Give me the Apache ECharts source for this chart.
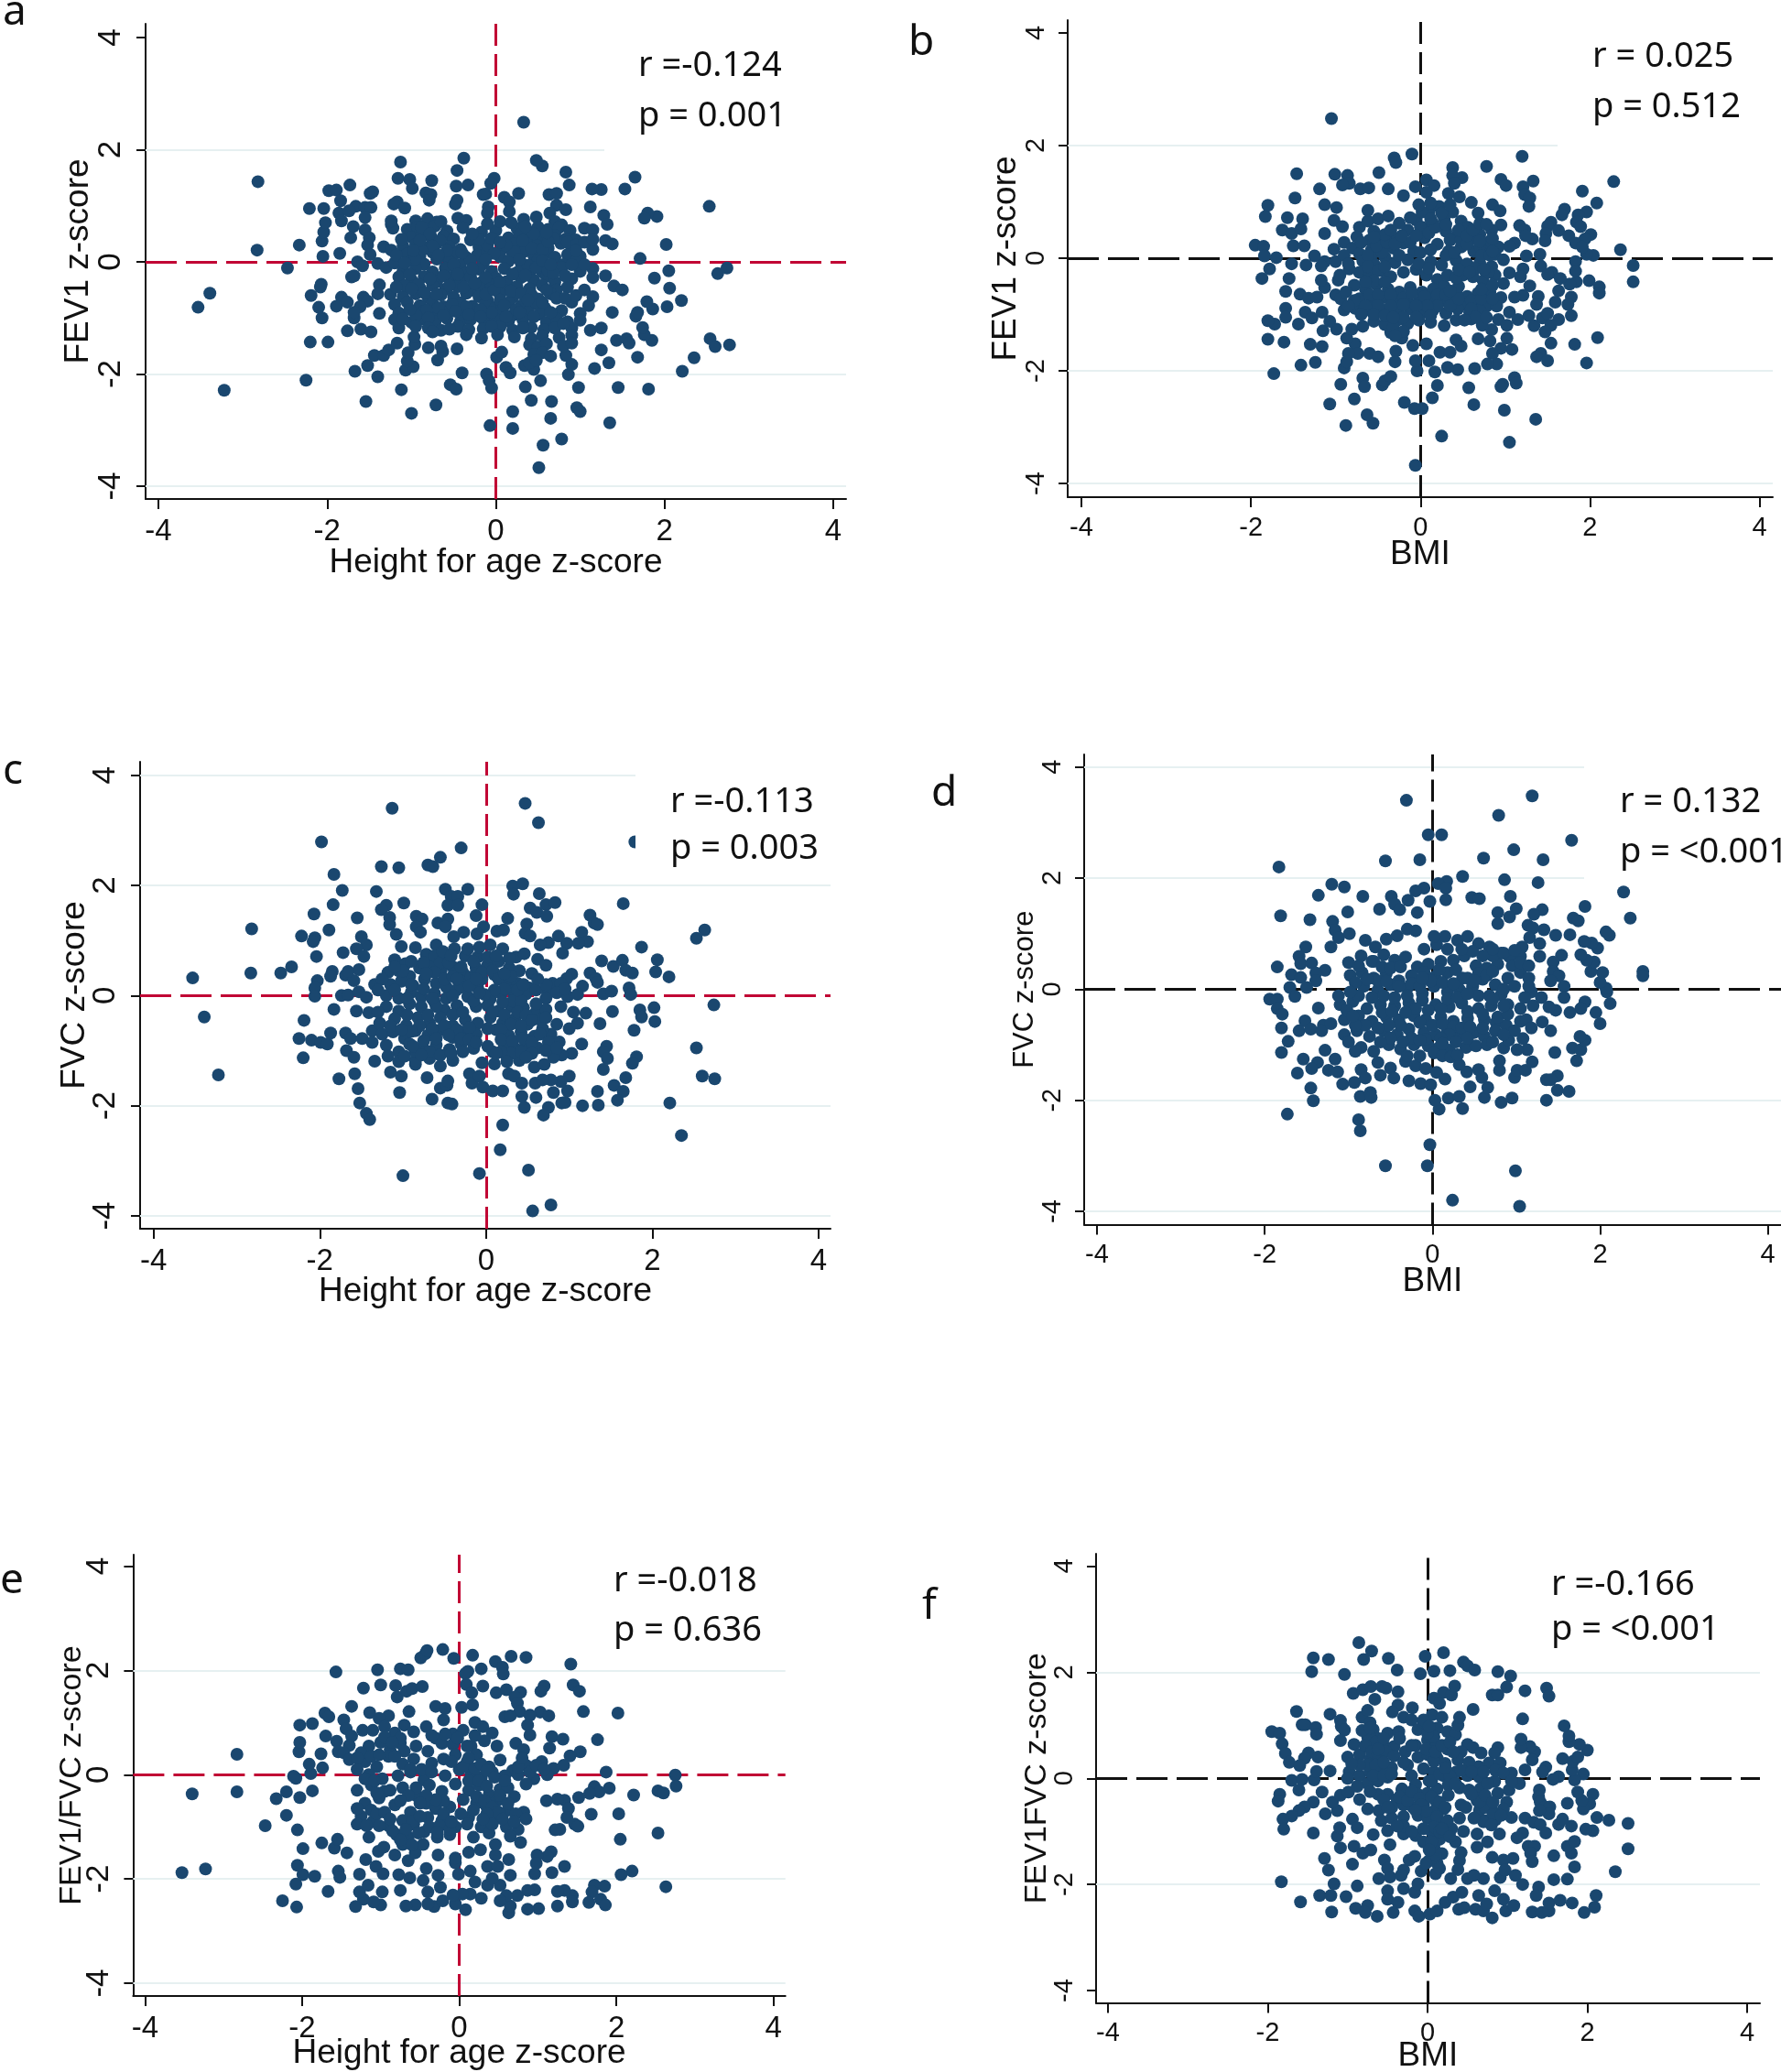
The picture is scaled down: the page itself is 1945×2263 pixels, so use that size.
<!DOCTYPE html>
<html><head><meta charset="utf-8">
<style>html,body{margin:0;padding:0;background:#fff;overflow:hidden}#c{width:1945px;height:2263px}</style>
<script src="https://cdn.jsdelivr.net/npm/echarts@6/dist/echarts.min.js"></script>
</head><body><div id="c"></div>
<script>
const tickLabels = [-4,-2,0,2,4];
const xNameHeight = 'Height for age z-score';
const xNameBmi = 'BMI';

const heightFev1 = [[-3.53,-.81],[-3.39,-.56],[-3.22,-2.29],[-2.82,1.43],[-2.83,.21],[-2.47,-.11],[-2.33,.30],[-2.25,-2.11],[-2.21,.95],[-2.19,-.60],[-2.20,-1.43],[-1.99,-1.43],[-2.10,-.81],[-2.07,-.40],[-2.08,-.45],[-2.06,-1.00],[-2.05,.10],[-2.06,.37],[-2.04,.53],[-2.02,.70],[-2.04,.95],[-1.98,1.27],[-1.89,1.28],[-1.73,1.37],[-1.84,1.09],[-1.86,.87],[-1.83,.73],[-1.69,.63],[-1.72,.43],[-1.85,.15],[-1.64,0],[-1.71,-.27],[-1.83,-.63],[-1.89,-.79],[-1.76,-.72],[-1.68,-1.00],[-1.76,-1.23],[-1.60,-1.20],[-1.48,-1.25],[-1.67,-1.95],[-1.52,-1.85],[-1.40,-2.05],[-1.54,-2.49],[-1.44,-1.67],[-1.33,-1.67],[-1.27,-1.57],[-1.17,-1.45],[-1.12,-2.28],[-1.00,-2.70],[-.71,-2.55],[-1.07,-1.93],[-.98,-1.87],[-1.05,-1.77],[-1.04,-1.62],[-.96,-1.47],[-.80,-1.53],[-.69,-1.75],[-.63,-1.60],[-.65,-1.50],[-.46,-1.55],[-.40,-1.98],[-.54,-2.19],[-.47,-2.27],[-.11,-2.00],[-.08,-2.12],[-.05,-2.25],[-.07,-2.92],[.20,-2.67],[.20,-2.97],[.42,-2.47],[.35,-2.23],[.66,-2.49],[.65,-2.79],[.78,-3.16],[.56,-3.27],[.51,-3.67],[.53,-2.12],[.96,-2.60],[1.00,-2.67],[1.35,-2.87],[.98,-2.24],[1.45,-2.24],[1.81,-2.27],[1.17,-1.90],[1.34,-1.80],[.86,-2.01],[.90,-1.83],[.83,-1.67],[.01,-1.70],[.07,-1.61],[.12,-1.88],[.17,-1.98],[.34,-1.85],[.45,-1.92],[1.25,-1.57],[1.43,-1.40],[1.55,-1.37],[1.58,-1.45],[1.68,-1.70],[2.21,-1.95],[2.35,-1.71],[2.54,-1.37],[2.60,-1.51],[2.77,-1.48],[1.85,-1.40],[1.76,-1.30],[1.74,-1.17],[1.66,-.97],[1.68,-.90],[1.86,-.84],[1.79,-.71],[2.03,-.80],[2.20,-.69],[2.06,-.47],[1.88,-.29],[2.05,-.16],[2.63,-.21],[2.74,-.11],[2.02,.31],[1.71,.06],[2.53,.99],[1.91,.81],[1.80,.87],[1.76,.78],[1.65,1.51],[1.53,1.30],[1.25,1.29],[1.14,1.30],[1.12,.98],[1.28,.83],[1.32,.67],[.87,1.37],[.83,1.60],[.55,1.71],[.48,1.81],[.33,2.49],[-.38,1.85],[-.46,1.63],[-1.13,1.78],[-1.16,1.49],[-1.02,1.47],[-.99,1.31],[-.76,1.45],[-.33,1.37],[-.47,1.35],[-.02,1.49],[-.06,1.40],[.27,1.22],[.10,1.15],[-.12,1.21],[-.15,1.20],[-1.46,1.25],[-1.49,1.22],[-1.17,1.07],[-1.21,1.03],[-1.08,.96],[-.83,1.23],[-.77,1.20],[-.79,1.10],[-.46,1.10],[-.48,1.03],[.63,1.20],[.72,1.22],[.72,1.01],[.83,.93],[.64,.87],[.16,1.07],[.16,.90],[-.09,.98],[-.10,.87],[-1.66,.99],[-1.74,.91],[-1.55,.97],[-1.48,.97],[-1.55,.79],[-1.24,.67],[-1.22,.60],[-1.24,.73],[-1.55,.57],[-1.50,.43],[-1.52,.30],[-1.33,.27],[-1.49,.13],[-1.24,.21],[-1.40,-.03],[-1.58,-.07],[-1.30,-.10],[-1.68,-.25],[-1.38,-.41],[-1.40,-.57],[-1.57,-.63],[-1.52,-.70],[-1.61,-.80],[-1.68,-.90],[-1.38,-.92],
[-.95,.73],[-.81,.77],[-.70,.71],[-.45,.78],[-.35,.74],[.33,.76],[.48,.80],[.70,.72],[.78,.66],[-1.05,.58],[-.93,.62],[-.82,.57],[-.72,.64],[-.58,.55],[-.39,.61],[-.17,.53],[0,.56],[.25,.60],[.38,.55],[.50,.62],[.62,.58],[.75,.61],[.88,.56],[1.05,.60],[1.15,.57],[-1.0,.44],[-.88,.47],[-.76,.42],[-.62,.46],[-.50,.41],[-.30,.39],[.15,.43],[.28,.48],[.42,.40],[.56,.44],[.70,.47],[.83,.41],[.95,.39],[1.30,.38],[1.38,.32],[-1.1,.28],[-.95,.31],[-.82,.25],[-.70,.33],[-.55,.27],[-.42,.22],[-.20,.26],[.08,.24],[.22,.32],[.35,.27],[.48,.30],[.62,.24],[.77,.33],[.90,.26],[1.15,.22],[-1.05,.14],[-.90,.10],[-.75,.17],[-.62,.11],[-.48,.15],[-.35,.08],[-.22,.12],[-.10,.17],[.05,.09],[.20,.14],[.33,.18],[.45,.11],[.60,.16],[.70,.08],[.85,.13],[1.0,.10],[-1.2,-.02],[-1.0,.02],[-.85,-.04],[-.55,.0],[-.42,-.05],[-.30,.03],[-.15,-.03],[.15,.01],[.30,-.02],[.50,.03],[.80,-.05],[.95,.02],[-1.1,-.16],[-.95,-.12],[-.75,-.18],[-.60,-.11],[-.47,-.15],[-.35,-.20],[-.20,-.13],[-.05,-.17],[.10,-.12],[.25,-.19],[.42,-.14],[.55,-.18],[.78,-.10],[1.0,-.17],[1.15,-.12],[-1.15,-.27],[-1.0,-.32],[-.85,-.26],[-.70,-.35],[-.55,-.29],[-.42,-.33],[-.30,-.27],[-.15,-.34],[0,-.29],[.13,-.35],[.30,-.28],[.45,-.33],[.60,-.26],[.70,-.36],[.90,-.30],[1.15,-.28],[1.30,-.25],[-.90,-.47],[-.75,-.42],[-.60,-.49],[-.45,-.44],[-.30,-.51],[-.17,-.46],[-.05,-.42],[.10,-.50],[.25,-.44],[.40,-.48],[.55,-.42],[.72,-.50],[.85,-.45],[1.40,-.43],[1.50,-.50],[-1.25,-.58],[-1.10,-.62],[-.95,-.57],[-.80,-.64],[-.65,-.59],[-.50,-.63],[-.35,-.56],[-.20,-.62],[-.10,-.68],[.05,-.58],[.20,-.63],[.35,-.60],[.50,-.66],[.65,-.57],[1.15,-.62],[-1.20,-.76],[-1.05,-.72],[-.90,-.78],[-.75,-.74],[-.62,-.80],[-.42,-.73],[-.28,-.79],[-.12,-.74],[0,-.81],[.15,-.73],[.30,-.78],[.45,-.75],[.58,-.82],[.90,-.72],[1.10,-.78],[-1.15,-.91],[-.85,-.88],[-.70,-.94],[-.55,-.87],[-.40,-.92],[-.25,-.86],[-.10,-.93],[.07,-.87],[.20,-.95],[.38,-.89],[.52,-.93],[.78,-.87],[1.0,-.92],[1.38,-.90],[-1.20,-1.03],[-1.0,-1.08],[-.88,-1.02],[-.72,-1.07],[-.58,-1.01],[-.42,-1.06],[-.30,-1.03],[-.13,-1.09],[0,-1.02],[.15,-1.06],[.32,-1.03],[.60,-1.08],[.72,-1.02],[.85,-1.07],[1.0,-1.04],[-1.15,-1.18],[-.65,-1.22],[-.45,-1.15],[-.32,-1.21],[-.15,-1.19],[.05,-1.16],[.20,-1.22],[.42,-1.17],[.57,-1.21],[.90,-1.18],[1.12,-1.22],[1.25,-1.18],[-.97,-1.34],[-.35,-1.30],[-.17,-1.36],[.22,-1.34],[.42,-1.37],[.55,-1.32],[.75,-1.35],[.90,-1.31],[.40,-1.48],[.50,-1.52],[.60,-1.46],[.80,-1.50],[.90,-1.45],[.45,-1.65],[.55,-1.62],[.65,-1.68],[.40,-1.80],[.48,-1.76],
[-.88,.62],[-.78,.5],[-.66,.38],[-.58,.2],[-.75,.28],[-.88,.2],[-.96,.05],[-.7,.05],[-.5,-.05],[-.62,-.25],[-.78,-.3],[-.92,-.4],[-.85,-.55],[-.7,-.58],[-.55,-.42],[-.38,-.45],[-.25,-.38],[-.12,-.58],[-.02,-.5],[.05,-.68],[.18,-.52],[.3,-.56],[.42,-.58],[.6,-.5],[.72,-.65],[.55,-.72],[.38,-.68],[.24,-.85],[.1,-.78],[-.05,-.9],[-.18,-.85],[-.35,-.8],[-.52,-.75],[-.68,-.82],[-.82,-.86],[-.95,-.95],[-.8,-1.0],[-.62,-.96],[-.48,-.88],[-.32,-.94],[-.18,-.98],[-.05,-1.15],[.12,-.98],[.28,-.9],[.45,-.98],[.65,-.9],[.3,-.12],[.38,-.06],[.42,.25],[.55,.22],[.68,.42],[.32,.38],[.22,.18],[.12,.3],[.62,.36],[.85,.35],[.95,.3],[.6,.52],[.45,.5],[.35,.63],[-.65,.72],[-.9,.38],[-.98,.2],[-.68,.12],[-.4,.16],[-.28,-.12],[-.12,-.28],[-.45,-.22],[.05,-.36],[.2,-.22],[.35,-.24],[.48,-.1],[.62,-.15],[.68,-.2],[.82,-.25],
[-1.12,.4],[-1.18,.12],[-1.08,-.02],[-1.02,-.22],[-1.08,-.42],[-1.18,-.45],[-1.0,-.48],[-1.02,-.85],[-1.1,-1.02],[-.95,-1.15],[-.8,-1.18],[-.55,-1.2],[-.75,-1.25],[-.1,.3],[-.02,.15],[-.12,.05],[-.2,.4],[-.05,.42],[.05,.35],[-.28,.5],[-.1,.68],[.05,.72],[.18,.7],[.28,.05],[.55,.02],[.65,-.05],[.9,-.05],[1.05,-.05],[.95,.2],[1.05,.35],[1.15,.4],[.02,-1.3],[.32,-1.18],[.7,-1.18],[.8,-1.1],[.95,-.6],[1.05,-.5],[.82,-.65]];

const bmiFev1 = [[-1.05,2.48],[-.10,1.85],[-.31,1.78],[-.29,1.70],[-1.46,1.50],[-1.01,1.49],[-.86,1.47],[-.84,1.33],[-.92,1.30],[-.49,1.52],[.38,1.61],[.78,1.63],[1.20,1.81],[.95,1.40],[1.01,1.29],[1.33,1.37],[2.28,1.36],[1.91,1.19],[2.08,.98],[1.96,.82],[1.70,.87],[1.67,.77],[1.86,.77],[1.84,.64],[1.89,.56],[2.01,.42],[1.94,.34],[2.36,.15],[2.04,.05],[1.96,.07],[2.51,-.13],[2.51,-.42],[2.11,-.51],[2.11,-.62],[1.99,-.40],[1.84,-.42],[1.76,-.46],[1.78,-.69],[1.74,-.82],[1.78,-1.02],[1.63,-.58],[1.59,-.78],[2.09,-1.41],[1.82,-1.53],[1.96,-1.86],[1.54,-1.51],[1.42,-1.69],[1.37,-1.75],[1.50,-1.82],[1.36,-2.86],[1.05,-3.27],[.99,-2.70],[1.11,-2.12],[1.13,-2.22],[.97,-2.24],[.95,-2.28],[.63,-2.60],[.57,-2.30],[.20,-2.26],[.14,-2.48],[.25,-3.16],[-.06,-3.68],[.02,-2.67],[-.07,-2.67],[-.19,-2.56],[-.56,-2.93],[-.63,-2.78],[-.88,-2.97],[-1.07,-2.59],[-.78,-2.50],[-.94,-2.24],[-.68,-2.13],[-.66,-2.28],[-.45,-2.25],[-.42,-2.18],[-.35,-2.10],[-1.73,-2.05],[-1.41,-1.90],[-1.24,-1.85],[-.90,-1.95],[-.87,-1.84],[-1.80,-1.44],[-1.61,-1.49],[-1.30,-1.53],[-1.16,-1.57],[-1.72,-1.17],[-1.80,-1.11],[-1.59,-.89],[-1.59,-1.05],[-1.44,-1.17],[-1.36,-.96],[-1.28,-1.06],[-1.16,-.96],[-1.15,-1.29],[-1.59,-.59],[-1.55,-.36],[-1.87,-.36],[-1.78,-.19],[-1.95,.23],[-1.85,.21],[-1.84,.04],[-1.70,.01],[-1.52,-.10],[-1.50,.22],[-1.37,.22],[-1.35,-.12],[-1.25,.04],[-1.42,-.64],[-1.32,-.71],[-1.22,-.69],[-1.83,.74],[-1.80,.94],[-1.57,.72],[-1.39,.70],[-1.63,.50],[-1.52,.44],[-1.41,.52],[-1.48,1.07],[-1.19,1.23],[-1.13,.95],[-.99,.90],[-1.13,.44],[-1.02,.67],[-.92,.56],[-1.02,.16],[-1.13,-.06],[-1.17,-.14],[-.71,1.23],[-.61,1.25],[-.38,1.23],[-.20,1.11],[-.06,1.27],[.07,1.39],[.16,1.29],[.07,1.17],[.33,1.15],[.49,1.43],[.60,.99],[.38,1.47],[.40,1.33],[.46,1.09],[.85,.95],[.68,.80],[.94,.84],[1.21,1.27],[1.23,1.13],[1.29,1.07],[1.28,.92],[1.17,.58],[1.23,.50],[.95,.59],[.84,.50],[1.54,.64],[1.50,.57],[1.63,.49],[1.48,.44],[1.47,.31],[1.75,.40],[1.83,.27],[1.91,.20],[1.32,.34],[1.24,.40],[1.11,.27],[1.05,.21],[1.41,.07],[1.25,.04],[1.42,-.14],[1.21,-.19],[1.18,-.33],[1.05,-.26],[1.55,-.25],[1.50,-.29],[1.65,-.36],[1.83,-.06],[1.83,-.23],[1.29,-.49],[1.21,-.66],[1.11,-.69],[1.39,-.68],[1.37,-.82],[1.05,-.96],[.92,-1.09],[1.15,-1.09],[1.28,-1.02],[1.34,-1.20],[1.44,-1.06],[1.50,-.98],[1.63,-1.09],[1.54,-1.19],[1.47,-1.31],[1.02,-1.19],[.84,-1.27],[1.02,-1.42],[1.08,-1.62],[.95,-1.60],[.82,-1.47],[.85,-1.69],[.90,-1.88],[.79,-1.88],[.68,-1.43],[.73,-1.19],[.64,-1.96],[.44,-1.98],[.32,-1.94],[.17,-2.02],[-.04,-2.00],[-.06,-1.82],[.10,-1.82],[.23,-1.67],[.35,-1.67],[.42,-1.45],[.48,-1.56],[.07,-1.52],[-.29,-1.65],[-.30,-1.84],[-.09,-1.55],[-.22,-1.42],[-.35,-1.32],[-.77,-1.52],[-.60,-1.69],[-.50,-1.75],[-.74,-1.69],[-.85,-1.69],
[-.87,-1.42],[-.81,-1.26],[-.68,-1.21],[-.99,-1.26],[-1.07,-1.12],[-.90,-.92],[-.77,-.89],[-1.13,-.52],[-1.0,-.65],[-.94,-.72],[-1.17,-.39],[-.97,-.39],[-.84,-.19],[-1.0,-.06],[-.9,.28],[-.8,.18],[-.72,.55],[-.62,.66],[-.55,.48],[-.75,.38],[-.6,.32],[-.48,.37],[-.72,.08],[-.58,.14],[-.45,.22],[-.3,.35],[-.15,.5],[-.05,.68],[.1,.82],[.22,.92],[.02,.55],[.14,.63],[.28,.7],[.38,.82],[.48,.66],[.56,.55],[.3,.48],[.43,.4],[.6,.35],[.7,.42],[.82,.3],[.92,.2],[-.32,.18],[-.2,.27],[-.08,.12],[.05,.36],[.2,.25],[.33,.12],[.48,.2],[.63,.12],[.78,.18],[.88,.07],[.98,-.03],[-.68,-.05],[-.55,-.1],[-.42,.02],[-.3,-.08],[-.15,-.03],[0,.1],[.12,-.06],[.25,-.12],[.42,-.04],[.55,-.1],[.7,-.08],[.84,-.15],[-.72,-.25],[-.6,-.3],[-.47,-.22],[-.35,-.33],[-.2,-.25],[-.05,-.2],[.07,-.3],[.2,-.38],[.5,-.3],[.62,-.33],[.74,-.4],[.88,-.3],[.98,-.45],[-.78,-.48],[-.65,-.55],[-.52,-.47],[-.38,-.55],[-.25,-.6],[-.12,-.52],[.02,-.6],[.15,-.55],[.28,-.5],[.42,-.6],[.55,-.68],[.68,-.62],[.82,-.6],[.95,-.7],[-.72,-.72],[-.58,-.78],[-.44,-.7],[-.3,-.76],[-.16,-.72],[-.02,-.78],[.12,-.72],[.25,-.76],[.38,-.74],[.52,-.82],[.66,-.8],[.78,-.85],[-.67,-.94],[-.54,-.98],[-.4,-.92],[-.26,-.96],[-.12,-.9],[.02,-.96],[.15,-.92],[.3,-.98],[.44,-.9],[.58,-.96],[.7,-.92],[-.55,-1.12],[-.42,-1.18],[-.27,-1.1],[-.15,-1.16],[-.02,-1.1],[.12,-1.14],[.28,-1.2],[.42,-1.1],[.6,-1.08],
[-.55,.1],[-.45,.1],[-.62,.05],[-.7,.28],[-.52,.22],[-.4,.28],[-.3,.25],[-.42,.42],[-.55,.38],[-.62,-.15],[-.5,-.22],[-.42,-.15],[-.55,-.4],[-.65,-.42],[-.42,-.42],[-.6,-.65],[-.5,-.65],[-.35,-.65],[-.2,-.7],[-.1,-.62],[.05,-.68],[.2,-.65],[.3,-.65],[.35,-.85],[.2,-.85],[.08,-.85],[-.05,-.85],[-.2,-.82],[-.35,-.85],[-.5,-.85],[.45,-.72],[.6,-.75],[.72,-.72],[.45,-.5],[.35,-.58],[.6,-.9],[.12,-1.02],[-.05,-1.05],[-.2,-1.05],[-.32,-1.22],[-.2,-1.3],[-.3,-1.38],[.0,.55],[.1,.45],[.18,.55],[.02,.82],[.12,.7],[.3,.6],[.35,.32],[.48,.32],[.55,.25],[.7,.22],[.72,.05],[.82,.05],[.85,.12],[-.25,.05],[-.12,.28],[-.22,.4],[-.05,.4],[.12,.15],[.3,.05],[.4,.1],[-.02,-.1],[.1,-.18],[.32,-.3],[.42,-.35],[.65,-.18],[.8,-.25],
[-.9,.05],[-.85,-.1],[-.95,-.3],[-.88,-.6],[-.78,-.75],[-.85,-.85],[-.65,-.85],[-.7,-1.0],[-.55,-1.0],[-.42,-1.02],[-.32,-1.05],[-.62,.85],[-.5,.7],[-.38,.75],[-.25,.62],[-.35,.5],[-.12,.72],[-.02,.95],[.12,.98],[.25,.8],[.35,.95],[.45,.5],[.55,.4],[.62,.5],[.7,.62],[.78,.6],[.85,.35],[.7,.3],[.45,-.2],[.58,-.25],[.75,-.2],[.72,-.55],[.85,-.48],[.9,-.85],[.85,-.72],[.65,-1.05],[.52,-1.1],[.78,-1.05]];

const heightFvc = [[-3.53,.32],[-3.39,-.39],[-3.22,-1.44],[-2.82,1.21],[-2.83,.41],[-2.47,.41],[-2.34,.52],[-2.25,-.78],[-2.19,-.45],[-2.20,-1.13],[-2.22,1.08],[-2.07,1.48],[-2.06,1.05],[-2.08,.98],[-1.98,2.79],[-1.83,2.20],[-1.73,1.91],[-1.84,1.65],[-1.89,1.19],[-2.04,.71],[-2.03,.27],[-2.06,.14],[-2.06,-.01],[-1.85,.44],[-1.87,.35],[-2.10,-.81],[-1.99,-.85],[-1.91,-.88],[-1.87,-.68],[-1.83,-.25],[-1.74,0],[-1.66,.01],[-1.72,.78],[-1.55,1.41],[-1.50,1.07],[-1.44,.92],[-1.56,.85],[-1.47,.71],[-1.53,.47],[-1.69,.37],[-1.59,.27],[-1.66,.44],[-1.53,.07],[-1.44,-.03],[-1.34,.20],[-1.56,-.28],[-1.41,-.31],[-1.37,-.64],[-1.69,-.68],[-1.63,-.78],[-1.49,-.78],[-1.37,-.85],[-1.68,-1.00],[-1.59,-1.12],[-1.34,-1.19],[-1.77,-1.51],[-1.58,-1.42],[-1.54,-1.69],[-1.52,-1.95],[-1.44,-2.14],[-1.40,-2.25],[-1.04,-1.76],[-.65,-1.88],[-.46,-1.95],[-.41,-1.97],[-1.15,-1.39],[-1.02,-1.46],[-.85,-1.25],[-.71,-1.49],[-.55,-1.68],[-.47,-1.63],[-.46,-1.55],[-.20,-1.42],[-.17,-1.59],[-.08,-1.46],[-.04,-1.66],[-1.13,3.40],[.47,3.49],[.63,3.14],[1.79,2.79],[-.30,2.68],[-.55,2.51],[-.70,2.37],[-.64,2.34],[-1.05,2.32],[-1.26,2.34],[-1.32,1.89],[-.49,1.93],[-.22,1.93],[-.42,1.80],[-.34,1.80],[-.46,1.64],[-.34,1.64],[-.99,1.68],[-1.20,1.64],[-1.26,1.56],[-1.16,1.42],[-1.16,1.29],[-1.08,1.11],[-1.02,.89],[-.84,1.44],[-.77,1.39],[-.84,1.25],[-.79,1.15],[-.58,1.32],[-.46,1.39],[-.49,1.25],[-.05,1.65],[-.12,1.45],[-.03,1.25],[-.27,1.15],[-.39,1.07],[-.11,1.12],[.13,1.17],[.21,1.19],[.26,1.40],[.32,1.99],[.44,2.03],[.33,1.84],[.64,1.85],[.53,1.59],[.61,1.51],[.72,1.65],[.83,1.69],[.73,1.44],[.49,1.30],[.47,1.13],[.53,1.08],[1.65,1.67],[1.25,1.46],[1.30,1.32],[1.34,1.29],[1.15,1.15],[1.22,.98],[1.11,.95],[.97,.95],[.87,1.08],[.75,.96],[.65,.92],[.92,.77],[1.87,.88],[2.53,1.04],[2.63,1.19],[2.06,.65],[2.04,.43],[2.20,.34],[1.39,.63],[1.53,.53],[1.64,.64],[1.68,.46],[1.76,.41],[1.25,.41],[1.32,.31],[1.34,.24],[1.72,.14],[1.74,.02],[1.41,.03],[1.51,.08],[1.16,.17],[1.03,.39],[.97,.31],[2.74,-.17],[2.02,-.22],[2.03,-.47],[1.85,-.26],[1.87,-.39],[1.52,-.29],[1.37,-.51],[1.78,-.63],[2.53,-.95],[2.60,-1.46],[2.75,-1.51],[2.21,-1.95],[2.35,-2.54],[1.81,-1.11],[1.76,-1.23],[1.45,-.92],[1.41,-1.02],[1.46,-1.14],[1.15,-.88],[1.41,-1.34],[1.68,-1.49],[1.54,-1.63],[1.65,-1.74],[1.58,-1.90],[1.34,-1.74],[1.35,-1.99],[1.16,-2.0],[.91,-1.95],[.95,-1.94],[.75,-2.03],[.69,-2.17],[.60,-1.85],[.46,-2.03],[.43,-1.83],[.20,-2.35],[.17,-2.80],[.51,-3.17],[-.08,-3.23],[-1.00,-3.27],[.78,-3.80],[.56,-3.91],[.98,-1.73],[.81,-1.76],[1.0,-1.46],[.9,-1.56],[.78,-1.53],[.08,-1.73],[.2,-1.73],[.27,-1.42],[.34,-1.46],[.43,-1.59],[.59,-1.59],[.68,-1.53],[1.03,-1.05],[.91,-1.08],[.81,-1.12],
[-1.1,.65],[-.97,.58],[-.85,.87],[-.72,.75],[-.6,.92],[-.5,.68],[-.38,.85],[-.25,.72],[-.1,.7],[.05,.92],[.2,.85],[.36,.7],[.46,.76],[.62,.66],[.72,.55],[-1.18,.42],[-1.05,.45],[-.92,.35],[-.8,.5],[-.67,.56],[-.54,.46],[-.4,.52],[-.28,.42],[-.12,.5],[.02,.55],[.15,.62],[.28,.5],[.4,.45],[.55,.4],[.8,.22],[-1.15,.2],[-1.02,.26],[-.88,.18],[-.74,.3],[-.6,.22],[-.48,.16],[-.3,.26],[-.18,.34],[-.05,.3],[.1,.38],[.25,.25],[.38,.22],[.52,.14],[.74,.05],[.9,.22],[-1.2,.0],[-1.05,-.05],[-.9,.06],[-.78,-.02],[-.62,.04],[-.48,-.05],[-.36,.1],[-.22,-.02],[-.1,.14],[.05,-.06],[.18,.04],[.32,.08],[.48,.03],[.72,-.05],[.98,-.02],[1.1,.02],[-1.2,-.2],[-1.05,-.28],[-.92,-.15],[-.78,-.2],[-.62,-.12],[-.5,-.26],[-.35,-.18],[-.12,-.2],[.02,-.18],[.15,-.28],[.3,-.2],[.45,-.22],[.6,-.3],[.72,-.25],[.9,-.2],[1.05,-.3],[1.2,-.32],[-1.28,-.5],[-1.1,-.42],[-.96,-.54],[-.82,-.4],[-.68,-.5],[-.55,-.4],[-.4,-.55],[-.25,-.44],[-.1,-.5],[.05,-.4],[.2,-.5],[.35,-.42],[.5,-.52],[.65,-.44],[.85,-.52],[1.0,-.6],[1.1,-.5],[-1.25,-.7],[-1.12,-.66],[-.98,-.78],[-.85,-.64],[-.7,-.72],[-.55,-.62],[-.4,-.76],[-.27,-.66],[-.12,-.7],[.12,-.62],[.27,-.72],[.42,-.66],[.58,-.74],[.78,-.7],[.88,-.84],[-1.2,-.9],[-1.05,-1.02],[-.92,-.88],[-.76,-.95],[-.6,-.9],[-.44,-.98],[-.3,-.88],[-.15,-.96],[.08,-1.02],[.22,-.9],[.35,-.96],[.48,-.88],[.62,-.95],[-1.18,-1.1],[-1.05,-1.2],[-.85,-1.18],[-.68,-1.14],[-.55,-1.28],[-.4,-1.18],[-.05,-1.22],[.1,-1.24],[.25,-1.1],[.4,-1.18],[.58,-1.3],[.7,-1.25],
[-.75,.6],[-.62,.72],[-.55,.6],[-.45,.6],[-.62,.42],[-.72,.4],[-.5,.3],[-.4,.35],[-.3,.15],[-.35,.3],[-.2,.18],[-.05,.42],[.08,.45],[.15,.3],[.3,.35],[.22,.12],[.1,.1],[.32,-.1],[.2,-.12],[.42,-.1],[-.02,.02],[-.6,-.2],[-.7,-.35],[-.4,-.35],[-.28,-.3],[.08,-.3],[.22,-.35],[.38,-.3],[.48,-.35],[.55,-.45],[.3,-.52],[.42,-.55],[.18,-.62],[.02,-.6],[-.2,-.58],[-.35,-.62],[-.5,-.55],[-.65,-.6],[-.8,-.55],[-.9,-.65],[-.75,-.82],[-.6,-.78],[-.45,-.72],[-.3,-.78],[-.2,-.8],[.18,-.8],[.32,-.82],[.45,-.78],[.55,-.85],[.3,-1.05],[.42,-1.02],[.55,-1.05],[.18,-1.02],[-.85,-1.02],[-.68,-1.02],[-.55,-1.08],[-.3,.52],[-.15,.62],[.02,.7],[.28,.68],[.22,.4],[.38,.1],[.45,.2],[-.9,.2],[-.75,.12],[-.95,-.05],[-.65,-.05],[-.4,.0],[-.15,-.1],[.6,-.15],[.72,-.4],[.68,-.6],
[-1.25,.3],[-1.3,.1],[-1.1,.1],[-1.0,.45],[-1.1,.52],[-.9,.62],[-1.3,-.3],[-1.15,-.55],[-.95,-.35],[-1.02,-.62],[-.88,-.92],[-.98,-1.1],[-.78,-1.08],[-.42,-1.05],[-.28,-1.02],[-.12,-.85],[.02,-.92],[-.08,.05],[-.12,.3],[.6,.1],[.72,.2],[.62,.3],[.85,.05],[.95,.12],[.65,-.7],[.75,-.85],[.72,-1.0],[.85,-.95],[.48,-1.12],[.25,-1.2],[.12,-1.05],[-.52,.8],[-.42,.72],[-.22,.85],[-.08,.88],[.12,.72]];

const bmiFvc = [[-.31,3.40],[1.19,3.48],[.79,3.13],[-.05,2.78],[.11,2.78],[1.66,2.68],[.97,2.51],[-.56,2.31],[-.15,2.33],[.61,2.36],[1.32,2.33],[-1.83,2.20],[.36,2.03],[.86,1.97],[1.26,1.92],[.17,1.94],[.07,1.90],[.16,1.82],[2.28,1.75],[-1.20,1.89],[-1.05,1.84],[-1.36,1.69],[-.83,1.67],[-.1,1.82],[-.2,1.77],[-.29,1.60],[-.49,1.67],[-.45,1.53],[-.63,1.44],[-.39,1.43],[-.03,1.58],[.16,1.61],[.47,1.65],[.56,1.63],[.93,1.67],[1.0,1.45],[1.82,1.49],[1.31,1.43],[1.21,1.35],[.78,1.38],[.92,1.30],[.78,1.18],[2.36,1.28],[1.68,1.28],[1.74,1.23],[-1.81,1.32],[-1.46,1.25],[-1.01,1.39],[-.18,1.38],[-1.19,1.22],[-1.16,1.06],[-1.12,.93],[-.99,1.0],[-1.21,.76],[-1.51,.76],[-1.59,.59],[-1.57,.46],[-1.44,.47],[-1.85,.40],[-1.28,.34],[-1.39,.29],[-1.68,.26],[-1.57,.21],[-1.39,.15],[-1.5,.03],[-1.70,.03],[-1.64,-.13],[-1.94,-.18],[-1.85,-.18],[-1.85,-.35],[-1.79,-.45],[-1.80,-.7],[-1.36,-.34],[-1.52,-.57],[-1.59,-.75],[-1.45,-.72],[-1.30,-.65],[-1.32,-.75],[-1.21,-.62],[-1.72,-.94],[-1.80,-1.14],[-1.54,-1.26],[-1.37,-1.32],[-1.44,-1.43],[-1.61,-1.51],[-1.45,-1.78],[-1.42,-2.01],[-1.73,-2.25],[-1.28,-1.10],[-1.16,-1.26],[-1.24,-1.46],[-1.13,-1.49],[-1.07,-1.71],[-.93,-1.68],[-.86,-1.93],[-.74,-1.86],[-.73,-1.95],[-.88,-2.35],[-.86,-2.55],[-.56,-3.18],[-.06,-3.18],[-.03,-2.80],[.24,-3.80],[1.04,-3.91],[.99,-3.27],[.08,-2.16],[.03,-2.0],[.19,-1.96],[.36,-2.15],[.32,-1.93],[.45,-1.76],[.62,-1.95],[.66,-1.77],[.82,-2.04],[.95,-1.96],[1.36,-2.0],[1.49,-1.82],[1.63,-1.84],[1.36,-1.63],[1.49,-1.56],[1.41,-1.63],[.98,-1.59],[1.01,-1.46],[1.11,-1.46],[1.19,-1.31],[.8,-1.46],[.8,-1.29],[.59,-1.59],[.55,-1.45],[.41,-1.49],[.32,-1.36],[1.72,-1.29],[1.67,-1.06],[1.77,-1.09],[1.82,-.92],[1.76,-.85],[1.46,-1.14],[1.13,-1.09],[1.08,-.89],[1.01,-1.09],[.85,-1.06],[.91,-.92],[2.0,-.62],[1.95,-.42],[1.82,-.23],[1.77,-.35],[1.64,-.42],[2.12,-.26],[2.08,-.05],[2.07,.02],[2.0,.12],[2.03,.30],[1.89,.32],[1.93,.49],[1.84,.52],[1.77,.62],[1.97,.74],[1.9,.83],[1.81,.86],[1.64,.98],[1.47,.97],[1.33,1.07],[1.14,1.15],[1.2,1.10],[1.16,.93],[1.28,.82],[1.07,.76],[1.05,.59],[1.28,.59],[1.54,.61],[1.44,.49],[1.44,.32],[1.51,.24],[1.41,.15],[1.57,.05],[1.57,-.15],[1.47,-.38],[1.39,-.32],[1.31,-.59],[1.41,-.75],[2.51,.32],[2.51,.24],[2.11,.97],[2.07,1.03],
[-.8,.88],[-.68,.76],[-.55,.9],[-.42,.96],[-.3,1.08],[-.2,1.05],[-.1,.72],[.05,.8],[.18,.72],[.3,.88],[.42,.95],[.55,.82],[.68,.76],[.82,.65],[.92,.58],[-1.0,.48],[-.85,.6],[-.72,.5],[-.58,.62],[-.45,.52],[-.32,.58],[-.18,.4],[-.05,.45],[.1,.5],[.25,.52],[.38,.6],[.52,.42],[.65,.38],[.78,.45],[.95,.42],[-.98,.25],[-.84,.3],[-.7,.2],[-.55,.28],[-.4,.15],[-.25,.24],[-.1,.3],[.03,.22],[.18,.3],[.36,.2],[.48,.05],[.6,.18],[.75,.08],[.9,.2],[1.05,.3],[1.15,.2],[-.82,.05],[-.65,-.02],[-.5,.08],[-.3,.02],[-.12,-.08],[.02,.05],[.18,-.05],[.32,.0],[.68,-.12],[.82,-.1],[1.18,-.05],[1.3,-.15],[-1.1,-.28],[-.95,-.22],[-.78,-.35],[-.62,-.28],[-.45,-.3],[-.28,-.25],[-.12,-.2],[.04,-.28],[.2,-.32],[.35,-.25],[.55,-.35],[.7,-.3],[.9,-.28],[1.05,-.35],[1.2,-.3],[-1.05,-.55],[-.88,-.48],[-.72,-.58],[-.55,-.5],[-.4,-.55],[-.22,-.48],[-.08,-.55],[.1,-.5],[.25,-.58],[.42,-.52],[.62,-.55],[.76,-.6],[.88,-.65],[1.05,-.58],[-1.05,-.82],[-.9,-.75],[-.75,-.85],[-.58,-.75],[-.42,-.82],[-.28,-.72],[-.1,-.78],[.04,-.82],[.18,-.75],[.32,-.85],[.5,-.78],[.62,-.85],[.75,-.75],[.98,-.75],[-.85,-1.05],[-.7,-1.12],[-.52,-1.0],[-.38,-1.08],[-.22,-1.0],[-.05,-1.02],[.08,-1.05],[.2,-1.1],[.4,-1.05],[.52,-1.02],[-.65,-1.32],[-.5,-1.42],[-.32,-1.3],[-.2,-1.38],[-.08,-1.43],[.05,-1.5],[.15,-1.62],[-.62,-1.55],[-.46,-1.6],[-.28,-1.65],[-.14,-1.7],[-.02,-1.72],[-.85,-1.45],[-.8,-1.6],
[-.7,.5],[-.6,.4],[-.5,.38],[-.38,.4],[-.25,.1],[-.4,.05],[-.15,.05],[-.02,.15],[.12,.12],[.25,.1],[.42,.2],[.55,.28],[.65,.25],[.72,.32],[.5,.15],[.08,.35],[-.12,.2],[.28,.35],[-.65,.15],[-.55,.14],[-.78,.18],[-.72,-.15],[-.58,-.12],[-.45,-.15],[-.3,-.12],[-.2,-.35],[-.05,-.38],[.1,-.35],[.18,-.18],[.3,-.15],[.42,-.4],[-.6,-.42],[-.48,-.4],[-.32,-.42],[-.15,-.6],[0,-.65],[.12,-.62],[.25,-.68],[.35,-.7],[.2,-.82],[.1,-.88],[-.08,-.9],[-.25,-.88],[-.38,-.65],[-.52,-.65],[-.65,-.7],[-.8,-.65],[-.92,-.65],[.02,-1.15],[.12,-1.2],[.22,-1.22],[.3,-1.18],[-.5,-.88],[-.3,-1.2],[-.15,-1.2],[.45,-.68],[.6,-.7],[.78,-.5],[.9,-.45],[.85,.0],[.98,.05],[.72,.6],[.6,.6],
[-.88,.42],[-.92,.12],[-.88,-.12],[-.98,-.05],[-1.12,-.12],[-1.02,-.38],[-.95,-.48],[-1.0,-.95],[-.92,-1.12],[-.62,-.95],[-.35,-.95],[-.15,-.92],[.12,-.98],[.28,-.95],[.42,-.88],[.65,-1.0],[.72,-.95],[.85,-.82],[.85,-.3],[.72,-.18],[.55,-.12],[.42,-.08],[.6,-.45],[.85,.65],[.72,.72],[.48,.68],[.35,.72],[.15,.95],[.02,.95],[.98,.7],[1.05,.48],[1.15,.42],[1.15,.05],[1.1,-.15],[1.12,-.55],[1.18,-.7]];

const heightRatio = [[-3.53,-1.88],[-3.23,-1.81],[-3.40,-.37],[-2.83,.39],[-2.83,-.33],[-2.47,-.98],[-2.33,-.46],[-2.20,-.33],[-2.20,-.78],[-2.25,-2.42],[-2.07,-2.54],[-2.08,-2.10],[-1.99,-1.92],[-2.06,-1.74],[-1.84,-1.95],[-1.67,-2.24],[-2.06,-1.06],[-1.99,-1.42],[-1.75,-1.31],[-1.59,-1.41],[-1.55,-1.24],[-1.43,-1.50],[-2.03,-.44],[-1.87,-.31],[-2.08,-.07],[-2.11,-.03],[-1.89,.02],[-1.91,.20],[-1.76,.40],[-1.74,.13],[-2.04,.44],[-2.03,.62],[-2.03,.95],[-1.87,.98],[-1.71,1.18],[-1.66,1.11],[-1.57,1.97],[-1.70,.74],[-1.56,.64],[-1.47,1.05],[-1.44,.88],[-1.37,.74],[-1.37,1.31],[-1.54,.44],[-1.40,.56],[-1.47,.42],[-1.40,.29],[-1.23,.85],[-1.14,1.19],[-1.22,1.66],[-1.0,1.72],[-.81,1.71],[-.79,1.49],[-.67,1.60],[-.60,1.65],[-.47,1.69],[-1.04,2.01],[-.75,2.03],[-.65,2.01],[-.49,2.24],[-.43,2.32],[-.41,2.38],[-.21,2.40],[-.07,2.23],[.17,2.29],[.28,2.03],[.11,1.98],[.08,1.94],[.46,2.17],[.66,2.27],[.85,2.25],[.55,2.06],[.56,1.93],[1.42,2.12],[.09,1.73],[.16,1.57],[.30,1.70],[.47,1.57],[.60,1.63],[.78,1.58],[.71,1.49],[1.08,1.70],[1.04,1.60],[1.45,1.72],[1.53,1.60],[1.58,1.21],[2.02,1.18],[-.30,1.31],[-.18,1.27],[.03,1.29],[.17,1.34],[-.64,1.21],[-.90,1.13],[-1.02,1.08],[.74,1.37],[.77,1.21],[.58,1.11],[.65,1.13],[1.03,1.20],[1.14,1.13],[.90,1.14],[.87,.95],[.90,.76],[1.18,.73],[1.32,.68],[1.15,.51],[1.76,.67],[1.54,.44],[1.41,.36],[1.33,.18],[1.87,.05],[2.75,-.01],[2.76,-.22],[2.53,-.31],[2.60,-.35],[2.22,-.39],[1.91,-.26],[1.72,-.23],[1.78,-.33],[1.66,-.36],[1.52,-.44],[1.34,-.49],[1.25,-.47],[1.11,-.50],[1.39,-.65],[1.37,-.82],[1.47,-.95],[1.51,-.99],[1.28,-1.05],[1.22,-1.06],[1.68,-.76],[2.03,-.75],[2.05,-1.24],[2.53,-1.12],[2.20,-1.85],[2.06,-1.92],[2.63,-2.15],[1.17,-1.48],[1.12,-1.57],[.99,-1.54],[.96,-1.90],[.98,-1.70],[1.34,-1.76],[1.18,-1.88],[1.85,-2.14],[1.72,-2.12],[1.69,-2.25],[1.44,-2.32],[1.34,-2.22],[1.25,-2.24],[1.80,-2.39],[1.86,-2.50],[1.65,-2.45],[1.44,-2.44],[1.25,-2.52],[1.01,-2.57],[.87,-2.58],[.63,-2.65],[.65,-2.52],[.08,-2.59],[-.05,-2.48],[.96,-2.21],[.87,-2.22],[.74,-2.32],[.60,-2.32],[.52,-2.42],[.28,-2.37],[.14,-2.29],[.04,-2.29],[-.32,-2.53],[-.21,-2.42],[-.40,-2.48],[-.56,-2.50],[-.68,-2.52],[-1.0,-2.50],[-1.09,-2.44],[-1.22,-2.39],[-1.32,-2.53],[-1.27,-2.25],[-1.16,-2.12],[-.98,-2.25],[-.75,-2.22],[-.40,-2.25],[-.24,-2.16],[-.08,-2.31],[-1.27,-1.91],[-1.54,-1.85],[-1.52,-1.97],[-1.06,-1.76],[-.97,-1.90],[-.77,-1.92],[-.63,-1.98],[-.42,-1.80],[-.27,-1.93],[-.46,-2.03],[-.05,-1.69],[-.01,-1.91],[.14,-1.85],[.20,-2.06],[.36,-2.12],[.65,-1.93],[.52,-2.12],[.36,-1.76],[.49,-1.76],[.42,-1.99],[.63,-1.63],[.46,-1.54],[.46,-1.34],[.12,-1.49],[.27,-1.44],[-.27,-1.54],[-.05,-1.60],[-1.19,-1.63],[-1.03,-1.47],[-.96,-1.39],[-.82,-1.54],[-.65,-1.65],[-.56,-1.50],[-.46,-1.34],[-.72,-1.34],
[-1.1,.85],[-.95,.92],[-.82,.8],[-.7,.95],[-.58,.82],[-.42,.92],[-.3,.7],[-.2,1.05],[-.08,.78],[.05,.85],[.2,1.0],[.3,.92],[.42,.8],[-1.15,.55],[-1.0,.62],[-.88,.48],[-.75,.6],[-.55,.55],[-.4,.45],[-.22,.6],[-.08,.58],[.15,.55],[.32,.65],[.48,.55],[.72,.6],[.82,.48],[-1.2,.25],[-1.05,.15],[-.9,.35],[-.72,.2],[-.58,.3],[-.35,.22],[-.2,.3],[-.05,.38],[.1,.25],[.22,.38],[.38,.15],[.52,.28],[.68,.08],[.85,.18],[1.05,.25],[1.2,.12],[-1.3,.1],[-1.15,.0],[-.98,-.08],[-.78,-.02],[-.62,.05],[-.45,-.1],[-.18,-.02],[0,.1],[.15,.02],[.28,-.06],[.42,.05],[.58,-.02],[.75,.0],[.95,-.08],[1.12,.0],[-1.3,-.3],[-1.12,-.2],[-.95,-.32],[-.72,-.25],[-.55,-.4],[-.38,-.2],[-.22,-.32],[-.05,-.18],[.12,-.3],[.25,-.2],[.38,-.38],[.52,-.28],[.7,-.42],[.85,-.18],[-1.2,-.55],[-1.02,-.45],[-.82,-.58],[-.62,-.72],[-.42,-.55],[-.3,-.65],[-.12,-.62],[.05,-.48],[.22,-.55],[.35,-.62],[.48,-.5],[.62,-.68],[.82,-.72],[-1.25,-.8],[-1.1,-.9],[-.9,-.98],[-.72,-.88],[-.58,-.95],[-.4,-.82],[-.22,-.88],[-.05,-1.0],[.12,-.82],[.28,-1.0],[.45,-.85],[.6,-1.0],[.75,-1.05],[-1.15,-1.2],[-.8,-1.15],[-.65,-1.2],[-.45,-1.1],[-.28,-1.2],[-.12,-1.15],[.18,-1.2],[.38,-1.12],[.65,-1.18],[.78,-1.3],
[-.75,.7],[-.95,.72],[-.85,.62],[-.7,.45],[-.82,.35],[-.62,.1],[-.48,.1],[-.35,.05],[-.1,.25],[.05,.15],[.2,.12],[.12,.32],[.28,.2],[.35,.08],[.45,-.05],[.12,-.12],[.25,-.12],[.35,-.22],[.22,-.42],[.32,-.5],[.42,-.62],[.5,-.72],[.55,-.85],[.35,-.75],[.18,-.68],[-.2,-.5],[-.3,-.48],[-.42,-.4],[-.55,-.25],[-.65,-.4],[-.75,-.5],[-.88,-.3],[-1.05,-.35],[-1.12,-.68],[-1.05,-.75],[-.95,-.72],[-.6,-.9],[-.5,-.8],[-.38,-1.0],[-.25,-.98],[-.12,-1.05],[-.68,-1.05],[-.75,-1.25],[-.6,-1.35],[-.28,-1.1],[.42,-.95],[.62,-.25],[.75,.15],[.8,.32],
[-1.25,.42],[-1.3,.32],[-1.12,.35],[-1.02,.38],[-1.2,-.08],[-1.08,-.12],[-1.3,-.65],[-1.3,-.95],[-1.18,-.98],[-1.02,-.98],[-.88,-.85],[-.85,-1.08],[-.52,-1.12],[-.5,-.55],[-.2,-.75],[-.1,-.9],[.02,-.75],[.1,-.95],[.3,-.85],[.52,-.4],[.62,-.55],[.72,-.75],[.85,-.85],[.7,-.9],[.58,-.12],[.9,.05],[.98,.18],[1.08,.1],[-.35,.75],[-.18,.78],[-.02,.7],[.2,.75],[.1,.55]];

const bmiRatio = [[-.86,2.56],[-.70,2.40],[-1.43,2.27],[-1.24,2.24],[-.80,2.24],[-.49,2.26],[-.03,2.30],[.20,2.37],[.45,2.19],[.50,2.12],[.59,2.04],[-1.45,2.01],[-1.04,1.96],[-.38,2.04],[-.09,1.97],[.08,2.02],[.28,2.03],[.88,2.01],[1.04,1.93],[.99,1.72],[1.22,1.65],[1.49,1.70],[1.52,1.55],[.81,1.57],[.88,1.57],[-.93,1.60],[-.81,1.67],[-.71,1.73],[-.57,1.73],[-.52,1.70],[-.37,1.63],[-.66,1.49],[.20,1.62],[.30,1.57],[.34,1.74],[.08,1.51],[.15,1.41],[.57,1.30],[-.37,1.38],[-.19,1.33],[-.44,1.25],[-1.64,1.26],[-1.22,1.21],[-1.09,1.09],[-1.08,.98],[-1.04,.91],[-1.57,1.01],[-1.53,1.01],[-1.40,.96],[-1.39,.83],[-1.95,.88],[-1.85,.85],[-1.82,.65],[-1.78,.47],[-1.73,.30],[-1.09,.71],[-.92,.64],[-1.49,.48],[-1.54,.38],[-1.60,.24],[-1.37,.40],[-1.70,-.04],[-1.61,-.22],[-1.57,-.02],[-1.42,-.03],[-1.39,.13],[-1.22,.14],[-1.32,-.26],[-1.85,-.30],[-1.87,-.43],[-1.43,-.45],[-1.54,-.54],[-1.61,-.61],[-1.70,-.71],[-1.81,-.77],[-1.80,-.96],[-1.43,-1.03],[-1.28,-.67],[-1.59,-2.33],[-1.83,-1.95],[-1.35,-2.21],[-1.21,-2.21],[-1.02,-2.23],[-1.20,-2.52],[-.90,-2.45],[-.88,-2.03],[-1.17,-1.99],[-1.24,-1.73],[-1.29,-1.51],[-.94,-1.62],[-1.09,-1.31],[-.92,-1.28],[-1.13,-1.09],[-1.10,-.93],[-.94,-.77],[-1.13,-.61],[-1.19,-.45],[-1.09,-.32],[-.99,-.26],[-.85,-.40],[-.75,-.58],[-.61,-.61],[-.88,-.93],[-.81,-1.41],[-.71,-1.35],[-.68,-1.06],[-.50,-.99],[-.47,-1.25],[-.54,-1.54],[-.50,-1.70],[-.30,-1.73],[-.23,-1.54],[-.16,-1.47],[-.61,-1.89],[-.47,-1.86],[-.33,-1.83],[-.50,-2.12],[-.50,-2.28],[-.37,-2.34],[-.30,-2.08],[-.16,-2.15],[-.12,-1.99],[-.75,-2.40],[-.78,-2.53],[-.63,-2.60],[-.43,-2.53],[-.16,-2.50],[-.11,-2.60],[.03,-2.56],[.12,-2.50],[.22,-2.34],[.32,-2.24],[.39,-2.47],[.46,-2.44],[.43,-2.15],[.29,-1.89],[.50,-1.89],[.70,-1.89],[.58,-1.83],[.64,-2.21],[.60,-2.47],[.70,-2.50],[.81,-2.63],[.74,-2.37],[.84,-2.12],[.91,-1.87],[.95,-2.28],[.98,-2.50],[1.08,-2.40],[1.10,-1.83],[1.19,-2.0],[1.39,-2.05],[1.36,-2.21],[1.31,-2.52],[1.43,-2.53],[1.52,-2.50],[1.52,-2.35],[1.66,-2.30],[1.81,-2.35],[1.96,-2.53],[2.09,-2.43],[2.11,-2.21],[2.35,-1.76],[2.51,-1.33],[2.51,-.85],[2.27,-.79],[2.12,-.74],[2.07,-.99],[1.98,-.96],[1.84,-1.67],[1.75,-1.90],[1.58,-1.91],[1.58,-1.46],[1.80,-1.41],[1.75,-1.28],[1.84,-1.19],[1.80,-.90],[1.64,-.87],[1.69,-.77],[2.07,-.30],[2.03,-.48],[1.95,-.58],[1.93,-.42],[1.88,-.26],[1.75,-.47],[1.95,.08],[1.84,-.03],[1.81,.16],[1.82,.32],[1.88,.40],[1.69,.37],[2.0,.53],[1.90,.64],[1.77,.69],[1.77,.80],[1.71,.99],[1.64,.03],[1.57,-.02],[1.48,.21],[1.44,.12],[1.34,.50],[1.28,.60],[1.17,.58],[1.17,.74],[1.19,1.12],[1.31,.35],[1.22,.16],[1.40,-.22],[1.39,-.35],[1.41,-.45],[1.47,-.54],[1.53,-.54],[1.52,-.67],[1.40,-.61],[1.22,-.75],[1.33,-.83],[1.41,-.87],[1.48,-1.03],[1.19,-1.03],[1.12,-1.12],[1.26,-1.28],[1.34,-1.28],[1.29,-1.41],[1.31,-1.57],[1.07,-1.51],[.95,-1.54],[.97,-1.73],[.81,-1.49],[.88,.58],[.84,.48],[.50,.64],[.57,.58],[.67,.48],[.77,.29],[.91,.29],[.64,.22],[1.05,.10],[.84,-.06],[1.15,-.10],[1.02,-.22],[.99,-.45],[.95,-.58],[1.05,-.74],[.81,-.61],
[-.82,1.15],[-.75,1.28],[-.72,1.05],[-.68,.92],[-.62,.75],[-.75,.78],[-.5,.85],[-.36,.88],[-.3,1.15],[-.2,1.1],[-.12,.92],[-.05,1.05],[.06,1.2],[.18,1.15],[.12,.95],[.25,.88],[.35,.82],[.38,1.0],[.4,1.15],[-.55,.62],[-.42,.6],[-.28,.5],[-.15,.62],[0,.72],[.1,.6],[.25,.55],[.42,.5],[-1.0,.4],[-.85,.45],[-.72,.35],[-.58,.4],[-.45,.2],[-.25,.25],[-.12,.4],[.0,.45],[.12,.38],[.22,.28],[.38,.35],[.52,.3],[-.98,.12],[-.85,.05],[-.72,.12],[-.6,.18],[-.5,.02],[-.2,.05],[-.05,.18],[.08,.12],[.2,.05],[.36,.12],[.5,.05],[.65,.02],[-.75,-.1],[-.62,-.05],[-.32,-.22],[-.15,-.12],[.02,-.05],[.12,-.2],[.26,-.12],[.4,-.18],[.52,-.22],[.66,-.2],[.75,-.1],[-.5,-.3],[-.38,-.4],[-.25,-.35],[-.12,-.3],[.0,-.28],[.1,-.42],[.26,-.32],[.62,-.42],[.72,-.35],[.88,-.28],[-.45,-.55],[-.3,-.5],[-.18,-.55],[-.05,-.5],[.08,-.62],[.2,-.58],[.42,-.5],[.65,-.6],[.78,-.48],[-.3,-.72],[-.12,-.7],[.0,-.75],[.12,-.82],[.4,-.75],[.62,-.72],[.72,-.8],[.85,-.78],[-.3,-1.05],[-.15,-1.08],[.05,-1.0],[.15,-1.15],[.3,-.95],[.45,-1.0],[.62,-1.05],[.75,-1.2],[.9,-1.05],[-.05,-1.2],[.08,-1.3],[.18,-1.42],[.35,-1.2],[.42,-1.4],[.62,-1.3],[.02,-1.55],[.12,-1.6],[.4,-1.55],[-.08,-1.75],[.1,-1.8],[.38,-1.72],
[-.72,.78],[-.65,.68],[-.55,.75],[-.78,.62],[-.7,.5],[-.62,.45],[-.52,.5],[-.75,.25],[-.65,.25],[-.55,.3],[-.68,.05],[-.55,.05],[-.45,.08],[-.32,-.2],[-.35,-.35],[-.25,-.42],[-.2,-.25],[-.1,-.38],[-.08,-.5],[-.02,-.62],[-.15,-.6],[.05,-.35],[.15,-.45],[.22,-.55],[.05,-.05],[.15,.08],[.28,.05],[.35,-.1],[.22,.2],[.08,.32],[-.02,.55],[.08,.78],[.1,.5],[.18,.62],[.28,.68],[.0,.85],[-.05,1.1],[.02,.98],[.62,-.38],[.72,-.55],[.82,-.68],[.7,-.82],[.58,-.75],[.8,-.88],[.65,-.45],[.72,-.32],[.12,-.72],[.08,-.92],[.15,-1.0],[.05,-1.2],[.1,-1.45],[.02,-1.35],[-.02,-1.6],[.15,-1.7],[-.58,-.8],[-.45,-.75],[-.3,-.9],
[-.82,.9],[-.72,.95],[-.62,.55],[-.42,.42],[-.3,.3],[-.2,.62],[-.35,.75],[-.85,.25],[-.95,.28],[-.88,-.15],[-1.0,.0],[-.62,-.3],[-.72,-.25],[-.55,-.4],[-.45,-.55],[-.38,-.9],[-.2,-1.0],[-.05,-.95],[.25,-.8],[.18,-.95],[.28,-1.1],[.48,-.55],[.55,-.3],[.82,-.45],[.92,-.7],[.85,.15],[.7,.12],[.95,.1],[1.05,-.05],[.32,.5],[-.5,-.55],[.42,.15],[.55,.12]];

const panelLabels = ['a','b','c','d','e','f'];
const stats = [['r =-0.124','p = 0.001'],['r = 0.025','p = 0.512'],['r =-0.113','p = 0.003'],['r = 0.132','p = <0.001'],['r =-0.018','p = 0.636'],['r =-0.166','p = <0.001']];
const yNames = ['FEV1 z-score','FEV1 z-score','FVC z-score','FVC z-score','FEV1/FVC z-score','FEV1FVC z-score'];
const xNames = [xNameHeight,xNameBmi,xNameHeight,xNameBmi,xNameHeight,xNameBmi];
const series6 = [heightFev1,bmiFev1,heightFvc,bmiFvc,heightRatio,bmiRatio];

const layout = [
 {l:159,r:924,t:26,b:545,x0:173,x1:910,y1:41,y0:531,ref:'#c10534',nameX:70,nameY:73,ny:37,nyt:35,light:[-4,-2,2],cover:[660,0,290,172],txt:[697,72,127],let:[3,14],tickY:33},
 {l:1166,r:1936,t:22,b:543,x0:1181,x1:1921.5,y1:36,y0:528,ref:'#111',nameX:63,nameY:67,ny:37,nyt:29,light:[-4,-2,2],cover:[1701,0,244,170],txt:[1739,62,117],let:[992,47],tickY:29},
 {l:153,r:907,t:832,b:1342,x0:167.7,x1:894,y1:846.7,y0:1328,ref:'#c10534',nameX:69,nameY:71,ny:37,nyt:35,light:[-4,-2,2,4],cover:[694,820,240,125],txt:[732,876,927],let:[3,843],tickY:33},
 {l:1184,r:1945,t:824,b:1337.5,x0:1198,x1:1930.6,y1:837.7,y0:1323,ref:'#111',nameX:62,nameY:65,ny:31,nyt:29,light:[-4,-2,2,4],cover:[1730,815,215,152],txt:[1769,876,931],let:[1017,867],tickY:29},
 {l:145.4,r:857.7,t:1698,b:2180,x0:158.4,x1:844.7,y1:1710.5,y0:2166,ref:'#c10534',nameX:63,nameY:67,ny:34,nyt:35,light:[-4,-2,2],cover:null,txt:[670,1727,1781],let:[0,1727],tickY:33},
 {l:1197,r:1922,t:1697,b:2187.5,x0:1210,x1:1908,y1:1710.5,y0:2174,ref:'#111',nameX:58,nameY:64,ny:34,nyt:29,light:[-2,2],cover:null,txt:[1694,1731,1780],let:[1007,1755],tickY:29}
];

const AX = {show:true,lineStyle:{color:'#111',width:2},onZero:false};
const grid=[],xAxis=[],yAxis=[],series=[],graphic=[];
layout.forEach((p,i)=>{
  const ux=(p.x1-p.x0)/8, uy=(p.y0-p.y1)/8;
  grid.push({left:p.l,top:p.t,width:p.r-p.l,height:p.b-p.t,containLabel:false,outerBoundsMode:'none'});
  xAxis.push({type:'value',gridIndex:i,min:-4-(p.x0-p.l)/ux,max:4+(p.r-p.x1)/ux,
    name:xNames[i],nameLocation:'middle',nameGap:p.nameX,nameMoveOverlap:false,
    nameTextStyle:{fontFamily:'Liberation Sans',fontSize:37,color:'#111',verticalAlign:'middle'},
    axisLine:AX,axisTick:{show:true,length:11,lineStyle:{color:'#111',width:2},customValues:tickLabels},
    axisLabel:{show:true,customValues:tickLabels,margin:19,fontFamily:'Liberation Sans',fontSize:p.tickY,color:'#111',hideOverlap:false,showMinLabel:true,showMaxLabel:true},
    splitLine:{show:false}});
  yAxis.push({type:'value',gridIndex:i,min:-4-(p.b-p.y0)/uy,max:4+(p.y1-p.t)/uy,
    name:yNames[i],nameLocation:'middle',nameGap:p.nameY,nameRotate:90,nameMoveOverlap:false,
    nameTextStyle:{fontFamily:'Liberation Sans',fontSize:p.ny,color:'#111',verticalAlign:'middle'},
    axisLine:AX,axisTick:{show:true,length:10,lineStyle:{color:'#111',width:2},customValues:tickLabels},
    axisLabel:{show:true,rotate:90,customValues:tickLabels,margin:20,fontFamily:'Liberation Sans',fontSize:p.nyt,color:'#111',hideOverlap:false},
    splitLine:{show:false}});
  const lines=[
    ...p.light.map(v=>({yAxis:v,lineStyle:{color:'#e6f0f1',width:2,type:'solid'}})),
    {yAxis:0,lineStyle:{color:p.ref,width:3,type:[34,10]}},
    {xAxis:0,lineStyle:{color:p.ref,width:3,type:[24,9]}}
  ];
  series.push({type:'scatter',xAxisIndex:i,yAxisIndex:i,data:series6[i],symbol:'circle',symbolSize:14,
    itemStyle:{color:'#1a476f',opacity:1},silent:true,animation:false,large:false,
    markLine:{silent:true,symbol:'none',z:1,animation:false,label:{show:false},data:lines}});
  if(p.cover) graphic.push({type:'rect',z:100,shape:{x:p.cover[0],y:p.cover[1],width:p.cover[2],height:p.cover[3]},style:{fill:'#fff'}});
  graphic.push({type:'text',z:101,x:p.txt[0],y:p.txt[1],style:{text:stats[i][0],font:'38px "Noto Sans"',fill:'#111',verticalAlign:'middle'}});
  graphic.push({type:'text',z:101,x:p.txt[0],y:p.txt[2],style:{text:stats[i][1],font:'38px "Noto Sans"',fill:'#111',verticalAlign:'middle'}});
  graphic.push({type:'text',z:101,x:p.let[0],y:p.let[1],style:{text:panelLabels[i],font:'46px "Noto Sans"',fill:'#111',verticalAlign:'middle'}});
});
const chart=echarts.init(document.getElementById('c'),null,{renderer:'canvas'});
chart.setOption({animation:false,backgroundColor:'#fff',grid,xAxis,yAxis,series,graphic});
</script></body></html>
